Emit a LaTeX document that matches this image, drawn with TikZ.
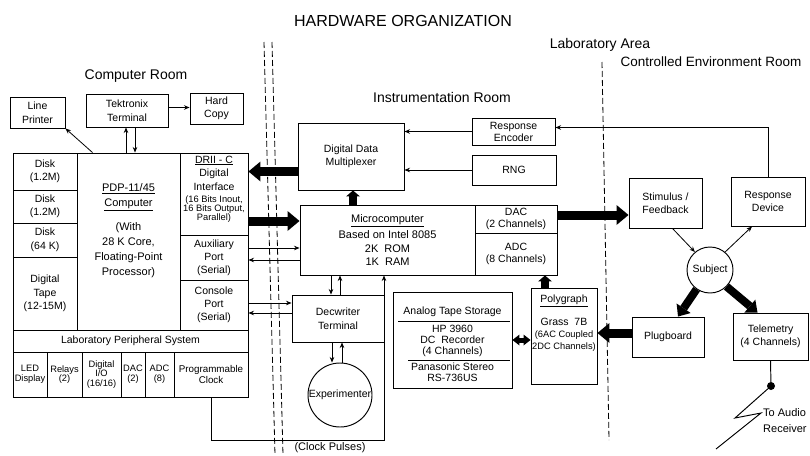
\documentclass[tikz,border=0pt]{standalone}
\usepackage{fontspec}
\setmainfont{Liberation Sans}
\usetikzlibrary{arrows.meta}
\newcommand\myfs[2]{\fontsize{#1}{#2}\selectfont}
\begin{document}
\begin{tikzpicture}[x=1pt,y=-1pt,
  box/.style={draw, line width=0.95pt, inner sep=0pt, align=center, font=\myfs{10.5}{13.5}},
  cell/.style={box, font=\myfs{9.3}{9.8}},
  lbl/.style={inner sep=0pt, align=center, font=\myfs{10.5}{13.5}},
  room/.style={inner sep=0pt, font=\myfs{14}{16}},
  arr/.style={line width=0.8pt, -{Stealth[length=5.5pt,width=4.5pt]}},
  fat/.style={line width=9pt, -{Triangle[width=20pt,length=12pt,line width=0pt]}},
  fatd/.style={line width=8pt, -{Triangle[width=17pt,length=10pt,line width=0pt]}},
  fatv/.style={line width=8pt, -{Triangle[width=14pt,length=6pt,line width=0pt]}},
  dbl/.style={line width=5pt, {Triangle[width=11pt,length=7pt,line width=0pt]}-{Triangle[width=11pt,length=7pt,line width=0pt]}},
  sep/.style={line width=0.8pt, dash pattern=on 6pt off 3pt},
  plain/.style={line width=0.95pt},
]
\useasboundingbox (0,0) rectangle (810,455);

% separators
\draw[sep] (264,42) -- (275,455);
\draw[sep] (272,42) -- (283,455);
\draw[sep] (602,62) -- (609,440);

% titles
\node[inner sep=0pt, font=\myfs{16}{18}] (title) at (403,21) {HARDWARE ORGANIZATION};
\node[room] (cr) at (136,76) {Computer Room};
\node[room] (ir) at (442,97) {Instrumentation Room};
\node[room] (la) at (600,45) {Laboratory Area};
\node[room, font=\myfs{13.5}{16}] (cer) at (711,62) {Controlled Environment Room};

% computer room
\node[box, minimum width=55, minimum height=31] (lp) at (37.5,112.5) {Line\\Printer};
\node[box, minimum width=82, minimum height=33] (tek) at (127,110.5) {Tektronix\\Terminal};
\node[box, minimum width=53, minimum height=31] (hc) at (216.5,108.5) {Hard\\Copy};

\node[box, minimum width=64, minimum height=37] (dk1) at (45,171.5) {Disk\\(1.2M)};
\node[box, minimum width=64, minimum height=33] (dk2) at (45,206.5) {Disk\\(1.2M)};
\node[box, minimum width=64, minimum height=34] (dk3) at (45,240) {Disk\\(64 K)};
\node[box, minimum width=64, minimum height=73] (dtape) at (45,293.5) {Digital\\Tape\\(12-15M)};
\node[box, minimum width=103, minimum height=177] (pdp) at (128.5,241.5) {};
\node[lbl, font=\myfs{11}{15}] (pdpt) at (128.5,231) {\underline{PDP-11/45}\\\underline{Computer}\\[9pt](With\\28 K Core,\\Floating-Point\\Processor)};
\node[box, minimum width=68, minimum height=82] (drii) at (214,194) {};
\node[lbl] (drt1) at (214,173) {\underline{DRII - C}\\Digital\\Interface};
\node[lbl, font=\myfs{9.3}{9}] (drt2) at (214,209) {(16 Bits Inout,\\16 Bits Output,\\Parallel)};
\node[box, minimum width=68, minimum height=45, font=\myfs{10.5}{13}] (aux) at (214,257.5) {Auxiliary\\Port\\(Serial)};
\node[box, minimum width=68, minimum height=50, font=\myfs{10.5}{13}] (cons) at (214,305) {Console\\Port\\(Serial)};
\node[box, minimum width=235, minimum height=22] (lps) at (130.5,341) {Laboratory Peripheral System};
\node[cell, minimum width=34, minimum height=45] (led) at (30,374.5) {LED\\Display};
\node[cell, minimum width=35, minimum height=45] (rel) at (64.5,374.5) {Relays\\(2)};
\node[cell, minimum width=39, minimum height=45] (dio) at (101.5,374.5) {Digital\\I/O\\(16/16)};
\node[cell, minimum width=24, minimum height=45] (dac2) at (133,374.5) {DAC\\(2)};
\node[cell, minimum width=29, minimum height=45] (adc8) at (159.5,374.5) {ADC\\(8)};
\node[cell, minimum width=74, minimum height=45, font=\myfs{9.8}{11}] (clock) at (211,374.5) {Programmable\\Clock};

% instrumentation room
\node[box, minimum width=106, minimum height=67] (mux) at (351,156.5) {Digital Data\\Multiplexer};
\node[box, minimum width=83, minimum height=27, font=\myfs{10.5}{12}] (renc) at (513.5,131.5) {Response\\Encoder};
\node[box, minimum width=84, minimum height=30] (rng) at (514,170) {RNG};
\node[box, minimum width=175, minimum height=70, font=\myfs{11}{13.5}] (micro) at (387.5,240) {\underline{Microcomputer}\\[3pt]Based on Intel 8085\\2K\ \ ROM\\1K\ \ RAM};
\node[box, minimum width=82, minimum height=28, font=\myfs{10.5}{12}] (dac) at (516,219) {DAC\\(2 Channels)};
\node[box, minimum width=82, minimum height=42, font=\myfs{10.5}{12.5}] (adc) at (516,254) {ADC\\(8 Channels)};
\node[box, minimum width=92, minimum height=47] (decw) at (338,318.5) {Decwriter\\Terminal};
\node[circle, draw, line width=0.95pt, inner sep=0pt, minimum size=64, font=\myfs{10.5}{12}] (exper) at (340,395) {Experimenter};
\node[box, minimum width=119, minimum height=96] (tapes) at (452.5,340) {};
\node[lbl] (tt1) at (452.5,312) {Analog Tape Storage};
\node[lbl, font=\myfs{10.5}{11}] (tt2) at (452.5,341) {HP 3960\\DC\ \ Recorder\\(4 Channels)};
\node[lbl, font=\myfs{10.5}{10.5}] (tt3) at (452.5,372) {Panasonic Stereo\\RS-736US};
\draw[plain] (398,321) -- (510,321);
\draw[plain] (408,360) -- (510,360);
\node[box, minimum width=66, minimum height=96] (poly) at (564,336) {};
\node[lbl] (pt1) at (564,301) {\underline{Polygraph}};
\node[lbl, font=\myfs{9.3}{12}] (pt2) at (564,335) {{\myfs{10.5}{12}Grass\ \ 7B}\\(6AC Coupled\\2DC Channels)};

% controlled environment room
\node[box, minimum width=73, minimum height=50] (stim) at (665.5,203) {Stimulus /\\Feedback};
\node[box, minimum width=74, minimum height=49] (rdev) at (768,201.5) {Response\\Device};
\node[circle, draw, line width=0.95pt, inner sep=0pt, minimum size=46, font=\myfs{10.5}{12}] (subj) at (710,270) {Subject};
\node[box, minimum width=72, minimum height=40] (plug) at (668,337) {Plugboard};
\node[box, minimum width=75, minimum height=47] (tele) at (770.5,336.5) {Telemetry\\(4 Channels)};
\node[circle, fill, inner sep=0pt, minimum size=8] (ant) at (771,386) {};
\coordinate (z1) at (735,418);
\coordinate (z2) at (761,413);
\coordinate (z3) at (716,449);
\node[lbl, align=left, anchor=west, font=\myfs{11}{16}] (audio) at (763,421) {To Audio\\Receiver};
\node[lbl, font=\myfs{11}{13}] (cpl) at (330,448) {(Clock Pulses)};

% connectors: computer room
\draw[arr] ([yshift=3pt]tek.east) -- ([yshift=3pt]tek.east -| hc.west);
\draw[arr] ([xshift=-1pt]tek.south |- pdp.north) -- ([xshift=-1pt]tek.south);
\draw[arr] ([xshift=8pt]tek.south) -- ([xshift=8pt]tek.south |- pdp.north);
\draw[arr] ([xshift=-36pt]pdp.north) -- (lp.south east);

% computer <-> instrumentation
\draw[fat] ([yshift=-15pt]mux.west) -- ([yshift=-15pt]mux.west -| drii.east);
\draw[fat] ([yshift=19pt]micro.west -| drii.east) -- ([yshift=19pt]micro.west);
\draw[arr] ([yshift=-8pt]micro.west -| aux.east) -- ([yshift=-8pt]micro.west);
\draw[arr] ([yshift=-20pt]micro.west) -- ([yshift=-20pt]micro.west -| aux.east);
\draw[arr] ([yshift=15.5pt]decw.west -| cons.east) -- ([yshift=15.5pt]decw.west);
\draw[arr] ([yshift=5.5pt]decw.west) -- ([yshift=5.5pt]decw.west -| cons.east);
\coordinate (cpA) at (211,440);
\coordinate (cpB) at (384,440);
\draw[arr] (clock.south) -- (cpA) -- (cpB) -- (cpB |- micro.south);

% instrumentation room
\draw[fatv] ([xshift=2pt]mux.south |- micro.north) -- ([xshift=2pt]mux.south);
\draw[arr] (renc.west) -- (renc.west -| mux.east);
\draw[arr] (rng.west) -- (rng.west -| mux.east);
\draw[arr] ([xshift=-7pt]decw.north |- micro.south) -- ([xshift=-7pt]decw.north);
\draw[arr] ([xshift=2pt]decw.north) -- ([xshift=2pt]decw.north |- micro.south);
\draw[arr] ([xshift=-6pt]decw.south) -- ([xshift=-6pt]decw.south |- exper.north);
\draw[arr] ([xshift=4pt]decw.south |- exper.north) -- ([xshift=4pt]decw.south);
\draw[fatv] ([xshift=-19pt]poly.north) -- ([xshift=-19pt]poly.north |- adc.south);
\draw[dbl] (tapes.east) -- (tapes.east -| poly.west);

% to controlled environment room
\draw[fat] ([yshift=-12pt]stim.west -| dac.east) -- ([yshift=-12pt]stim.west);
\draw[fat] ([yshift=4pt]plug.west) -- ([yshift=4pt]plug.west -| poly.east);
\draw[arr] (rdev.north) |- ([yshift=4pt]renc.east);
\draw[arr] ([xshift=7pt]stim.south) -- (subj.130);
\draw[arr] (subj.50) -- ([xshift=-16pt]rdev.south);
\draw[fatd] (subj.235) -- ([xshift=10pt]plug.north);
\draw[fatd] (subj.315) -- ([xshift=-13pt]tele.north);
\draw[plain] (tele.south) -- (ant);
\draw[plain] (ant) -- (z1) -- (z2) -- (z3);
\end{tikzpicture}
\end{document}
